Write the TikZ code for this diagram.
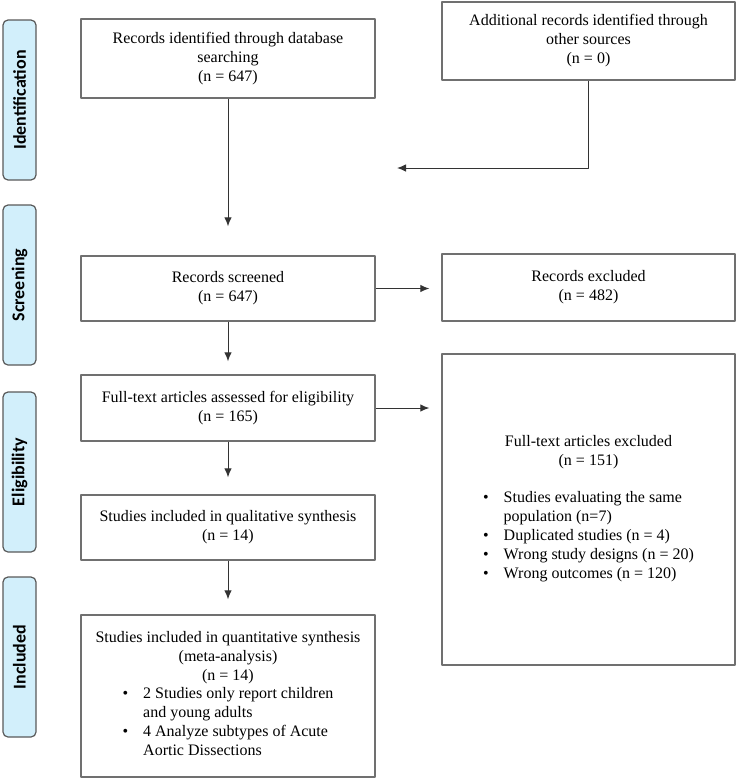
\documentclass[tikz,border=0pt]{standalone}
\usepackage{fontspec}
\setmainfont{Liberation Serif}
\newfontfamily\phasefont{Carlito}
\usetikzlibrary{arrows.meta,positioning}
\definecolor{phaseblue}{HTML}{D2EFFB}
\definecolor{boxgray}{HTML}{707070}

\begin{document}
\begin{tikzpicture}[line join=round,>={Latex[length=9pt,width=7.5pt]},x=1pt,y=-1pt]
\tikzset{every node/.style={font=\fontsize{16}{19}\selectfont}}
\tikzset{box/.style={draw=boxgray,line width=1.4pt,align=center,inner sep=0pt},
phase/.style={draw=black!65,line width=1.2pt,fill=phaseblue,rounded corners=5pt,rotate=90,
  minimum width=160,minimum height=33,inner sep=0pt,font=\phasefont\bfseries\fontsize{18}{20}\selectfont},
flow/.style={->,line width=1pt,black!80}}
\useasboundingbox (0,0) rectangle (738,779);
% phases
\node[phase] (idf) at (19.5,100) {Identification};
\node[phase] (scn) at (19.5,285) {Screening};
\node[phase] (elg) at (19.5,472) {Eligibility};
\node[phase] (inc) at (19.5,657) {Included};
% boxes
\node[box,minimum width=294,minimum height=79] (rid) at (228,58.5)
  {Records identified through database\\searching\\(n = 647)};
\node[box,minimum width=293,minimum height=78] (ros) at (588.5,41)
  {Additional records identified through\\other sources\\(n = 0)};
\node[box,minimum width=294,minimum height=65] (scr) at (228,288.5)
  {Records screened\\(n = 647)};
\node[box,minimum width=293,minimum height=67] (exc) at (588.5,287.5)
  {Records excluded\\(n = 482)};
\node[box,minimum width=294,minimum height=66] (fta) at (228,408)
  {Full-text articles assessed for eligibility\\(n = 165)};
\node[box,minimum width=293,minimum height=311] (fte) at (588.5,509.5)
  {Full-text articles excluded\\(n = 151)\\[19pt]
  \begin{tabular}{@{}l@{\hspace{15pt}}l@{}}
  \textbullet & Studies evaluating the same\\
   & population (n=7)\\
  \textbullet & Duplicated studies (n = 4)\\
  \textbullet & Wrong study designs (n = 20)\\
  \textbullet & Wrong outcomes (n = 120)
  \end{tabular}};
\node[box,minimum width=294,minimum height=65] (qal) at (228,527.5)
  {Studies included in qualitative synthesis\\(n = 14)};
\node[box,minimum width=294,minimum height=162] (qnt) at (228,696)
  {Studies included in quantitative synthesis\\(meta-analysis)\\(n = 14)\\
  \begin{tabular}{@{}l@{\hspace{15pt}}l@{}}
  \textbullet & 2 Studies only report children\\
   & and young adults\\
  \textbullet & 4 Analyze subtypes of Acute\\
   & Aortic Dissections
  \end{tabular}};
% arrows
\coordinate (a2) at (397,168);
\draw[flow,shorten >=29pt] (rid) -- (scr);
\draw[flow] (ros) |- (a2);
\draw[flow,shorten >=12pt] (scr) -- (scr -| exc.west);
\draw[flow,shorten >=13pt] (scr) -- (fta);
\draw[flow,shorten >=12pt] (fta) -- (fta -| fte.west);
\draw[flow,shorten >=17pt] (fta) -- (qal);
\draw[flow,shorten >=15pt] (qal) -- (qnt);
\end{tikzpicture}
\end{document}
